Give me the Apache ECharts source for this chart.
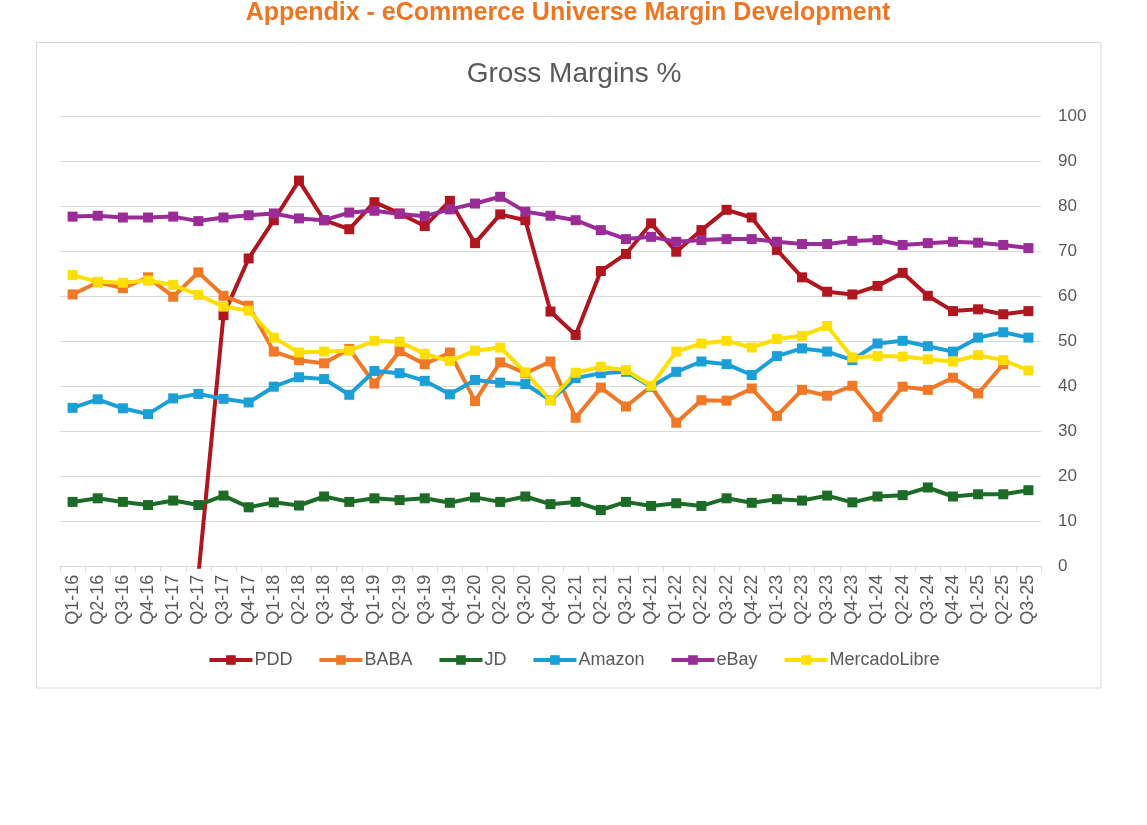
<!DOCTYPE html>
<html lang="en">
<head>
  <meta charset="UTF-8">
  <title>Gross Margins %</title>
  <script src="https://cdn.jsdelivr.net/npm/echarts@6/dist/echarts.min.js"></script>
  <style>
    html, body { margin: 0; padding: 0; background: #fff; }
    #chart { width: 1147px; height: 825px; }
  </style>
</head>
<body>
<div id="chart"></div>
<script>
  // quarters on the x axis
  var quarters = ['Q1-16', 'Q2-16', 'Q3-16', 'Q4-16', 'Q1-17', 'Q2-17', 'Q3-17', 'Q4-17',
    'Q1-18', 'Q2-18', 'Q3-18', 'Q4-18', 'Q1-19', 'Q2-19', 'Q3-19', 'Q4-19',
    'Q1-20', 'Q2-20', 'Q3-20', 'Q4-20', 'Q1-21', 'Q2-21', 'Q3-21', 'Q4-21',
    'Q1-22', 'Q2-22', 'Q3-22', 'Q4-22', 'Q1-23', 'Q2-23', 'Q3-23', 'Q4-23',
    'Q1-24', 'Q2-24', 'Q3-24', 'Q4-24', 'Q1-25', 'Q2-25', 'Q3-25'];

  // gross margin % per company
  var pdd = [null, null, null, null, null, -2, 55.9, 68.5, 77.0, 85.8,
    77.0, 75.0, 81.0, 78.5, 75.7, 81.3, 71.9, 78.3, 77.0, 56.7,
    51.5, 65.7, 69.5, 76.3, 70.0, 74.8, 79.3, 77.6, 70.4, 64.3,
    61.1, 60.5, 62.4, 65.3, 60.2, 56.8, 57.2, 56.1, 56.8];
  var baba = [60.5, 63.2, 61.9, 64.3, 60.0, 65.4, 60.2, 58.0, 47.8, 45.9,
    45.2, 48.4, 40.7, 47.9, 45.0, 47.6, 36.8, 45.4, 43.0, 45.6,
    33.1, 39.8, 35.6, 40.1, 32.0, 37.0, 36.9, 39.6, 33.5, 39.3,
    38.0, 40.2, 33.3, 40.0, 39.3, 42.0, 38.5, 45.0, null];
  var jd = [14.4, 15.2, 14.4, 13.7, 14.7, 13.7, 15.8, 13.2, 14.3, 13.6,
    15.6, 14.4, 15.2, 14.8, 15.2, 14.2, 15.4, 14.4, 15.6, 13.9,
    14.4, 12.6, 14.4, 13.5, 14.1, 13.5, 15.2, 14.2, 15.0, 14.7,
    15.8, 14.3, 15.6, 15.9, 17.6, 15.6, 16.1, 16.1, 17.0];
  var amazon = [35.3, 37.2, 35.2, 33.9, 37.4, 38.4, 37.3, 36.5, 40.0, 42.1,
    41.7, 38.2, 43.5, 43.0, 41.3, 38.3, 41.5, 40.9, 40.6, 37.0,
    41.9, 43.0, 43.3, 40.0, 43.3, 45.6, 45.0, 42.6, 46.8, 48.5,
    47.8, 45.9, 49.6, 50.2, 49.0, 47.8, 50.9, 52.1, 50.9];
  var ebay = [77.8, 78.0, 77.6, 77.6, 77.8, 76.8, 77.6, 78.1, 78.5, 77.4,
    77.0, 78.7, 79.1, 78.4, 77.9, 79.4, 80.7, 82.2, 78.9, 78.0,
    77.0, 74.8, 72.8, 73.3, 72.2, 72.6, 72.8, 72.8, 72.2, 71.7,
    71.7, 72.4, 72.6, 71.5, 71.9, 72.2, 72.0, 71.5, 70.8];
  var mercado = [64.8, 63.3, 63.1, 63.6, 62.6, 60.4, 57.8, 56.9, 50.9, 47.6,
    47.8, 48.0, 50.2, 50.0, 47.3, 45.7, 48.0, 48.7, 43.2, 37.0,
    43.1, 44.4, 43.7, 40.2, 47.8, 49.6, 50.2, 48.7, 50.6, 51.3,
    53.5, 46.5, 46.8, 46.7, 46.1, 45.6, 47.0, 45.9, 43.6];

  var names = ['PDD', 'BABA', 'JD', 'Amazon', 'eBay', 'MercadoLibre'];
  var colors = ['#B0161F', '#F07826', '#1C6B27', '#1A9FD6', '#9A2C97', '#FFDF00'];
  var values = [pdd, baba, jd, amazon, ebay, mercado];

  var myChart = echarts.init(document.getElementById('chart'));

  var series = [];
  for (var i = 0; i < names.length; i++) {
    series.push({
      name: names[i],
      type: 'line',
      data: values[i],
      symbol: 'rect',
      symbolSize: 10,
      color: colors[i],
      lineStyle: { width: 4 }
    });
  }

  var option = {
    animation: false,
    backgroundColor: '#fff',
    textStyle: { fontFamily: 'Liberation Sans, Arial, sans-serif' },
    title: [
      {
        text: 'Appendix - eCommerce Universe Margin Development',
        left: 563,
        textAlign: 'center',
        top: -4,
        textStyle: { color: '#EE7623', fontSize: 25, fontWeight: 'bold' }
      },
      {
        text: 'Gross Margins %',
        left: 569,
        textAlign: 'center',
        top: 55,
        textStyle: { color: '#595959', fontSize: 28, fontWeight: 'normal' }
      }
    ],
    graphic: [{
      type: 'rect',
      shape: { x: 36.5, y: 42.5, width: 1064.5, height: 645.5 },
      style: { fill: 'none', stroke: '#D9D9D9', lineWidth: 1 },
      silent: true
    }],
    legend: {
      data: names,
      top: 646,
      left: 'center',
      itemWidth: 43,
      itemHeight: 12,
      itemGap: 25,
      lineStyle: { width: 4 },
      textStyle: { color: '#595959', fontSize: 18, padding: [0, 0, 0, -3] }
    },
    grid: { left: 60, right: 106, top: 116.7, bottom: 258.3 },
    xAxis: {
      type: 'category',
      data: quarters,
      boundaryGap: true,
      axisLine: { lineStyle: { color: '#D9D9D9', width: 1 } },
      axisTick: { show: true, length: 5, lineStyle: { color: '#D9D9D9' } },
      axisLabel: { rotate: 90, interval: 0, margin: 8, fontSize: 18, color: '#595959' }
    },
    yAxis: {
      type: 'value',
      position: 'right',
      min: 0,
      max: 100,
      interval: 10,
      axisLine: { show: false },
      axisTick: { show: false },
      axisLabel: { margin: 17, fontSize: 17, color: '#595959' },
      splitLine: { lineStyle: { color: '#D9D9D9', width: 1 } }
    },
    series: series
  };

  option && myChart.setOption(option);
</script>
</body>
</html>
